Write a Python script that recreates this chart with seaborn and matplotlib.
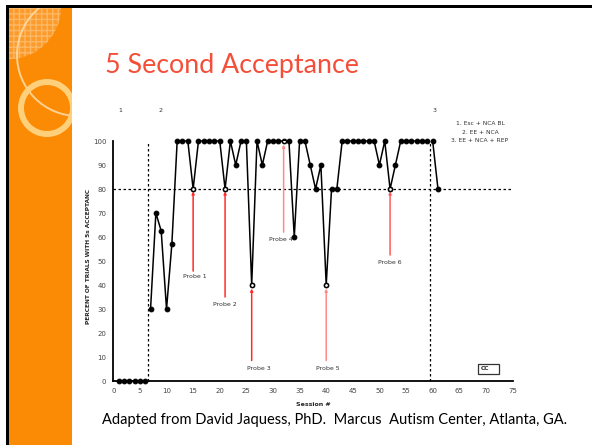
import numpy as np
import pandas as pd
import matplotlib
matplotlib.use("Agg")
import matplotlib.pyplot as plt
import seaborn as sns
from matplotlib.patches import Rectangle, Circle, Wedge

# ---------------- data ----------------
sessions = list(range(1, 62))
acceptance = [0, 0, 0, 0, 0, 0,
              30, 70, 62.5, 30, 57, 100, 100, 100, 80,
              100, 100, 100, 100, 100, 80, 100, 90, 100, 100, 40,
              100, 90, 100, 100, 100, 100, 100, 60, 100, 100, 90, 80, 90, 40,
              80, 80, 100, 100, 100, 100, 100, 100, 100, 90, 100, 80, 90,
              100, 100, 100, 100, 100, 100,
              100, 80]
phase = [1] * 6 + [2] * 53 + [3] * 2
probe_sessions = [15, 21, 26, 32, 40, 52]
probe_labels = ["Probe 1", "Probe 2", "Probe 3", "Probe 4", "Probe 5", "Probe 6"]
phase_change_x = [6.5, 59.5]
criterion = 80
legend_lines = ["1. Esc + NCA BL", "2. EE + NCA", "3. EE + NCA + REP"]

df = pd.DataFrame({"session": sessions, "pct": acceptance, "phase": phase})

# ---------------- figure ----------------
W, H = 592, 445
fig = plt.figure(figsize=(W / 100, H / 100), dpi=100)
sns.set_style("white")
plt.rcParams['font.family'] = ['DejaVu Sans']

def fx(px):
    return px / W

def fy(py):
    return 1 - py / H

# slide decorations
orange = "#FB8A05"
fig.patches.append(Rectangle((fx(8.5), 0), fx(72) - fx(8.5), fy(7), transform=fig.transFigure,
                             facecolor=orange, edgecolor="none", zorder=-2))
fig.patches.append(Rectangle((fx(6), 0), fx(2.6), fy(5.5), transform=fig.transFigure,
                             facecolor="black", edgecolor="none", zorder=5))
fig.patches.append(Rectangle((fx(6), fy(7.5)), 1 - fx(6), fy(5) - fy(7.5), transform=fig.transFigure,
                             facecolor="black", edgecolor="none", zorder=5))

deco = fig.add_axes([fx(8.5), fy(445), fx(72) - fx(8.5), fy(7) - fy(445)])
deco.set_zorder(1)
deco.set_xlim(8.5, 72)
deco.set_ylim(445, 7)
deco.axis("off")
plt.rcParams['hatch.color'] = "#FDB866"
deco.add_patch(Wedge((9, 7), 52, 0, 360, facecolor="#FC9A2A", edgecolor="#FDB866", lw=0, hatch="+++"))
deco.add_patch(Circle((78, 55), 61, facecolor="none", edgecolor="#FFD9A0", lw=1.4, alpha=0.9))
deco.add_patch(Wedge((47, 108), 29, 0, 360, width=6, facecolor="#FFCF7A", edgecolor="none"))

# title
fig.text(fx(105), fy(73), "5 Second Acceptance", fontsize=19.3, color="#F44E38",
         family=["Lato", "DejaVu Sans"], ha="left", va="baseline")
fig.text(fx(102), fy(420), "Adapted from David Jaquess, PhD.  Marcus  Autism Center, Atlanta, GA.",
         fontsize=10.5, color="black", family=["Lato", "DejaVu Sans"], ha="left", va="center")

# ---------------- chart ----------------
ax = fig.add_axes([fx(113.3), fy(381), fx(512.5) - fx(113.3), fy(141) - fy(381)])
ax.set_facecolor("none")
ax.set_zorder(2)

for ph, sub in df.groupby("phase"):
    sns.lineplot(data=sub, x="session", y="pct", ax=ax, color="black", lw=1.1,
                 marker="o", markersize=3.4, markeredgecolor="black", clip_on=False,
                 legend=False, zorder=3)

probe_df = df[df["session"].isin(probe_sessions)]
sns.scatterplot(data=probe_df, x="session", y="pct", ax=ax, s=8, facecolor="white",
                edgecolor="black", linewidth=0.9, zorder=4, legend=False)

ax.set_xlim(0, 75)
ax.set_ylim(0, 100)
ax.set_xticks(np.arange(0, 76, 5))
ax.set_yticks(np.arange(0, 101, 10))
ax.tick_params(axis="both", labelsize=5, colors="black", labelcolor="#444444",
               length=3, width=0.8, direction="out", pad=2)
for s in ["top", "right"]:
    ax.spines[s].set_visible(False)
for s in ["left", "bottom"]:
    ax.spines[s].set_linewidth(1.3)
    ax.spines[s].set_color("black")

# criterion and phase-change lines
ax.plot([0, 75], [criterion, criterion], color="black", lw=0.9, ls=(0, (2, 2)), zorder=2, clip_on=False)
for xv in phase_change_x:
    ax.plot([xv, xv], [0, 100], color="black", lw=0.9, ls=(0, (2, 2)), zorder=2)

# probe arrows
probe_label_pos = [(15.4, 43.5), (21.0, 32.0), (27.3, 5.3), (31.5, 59.0), (40.3, 5.3), (51.9, 49.5)]
arrow_spans = [(45.8, 79.0), (35.0, 79.0), (8.5, 38.5), (62.0, 98.5), (8.5, 38.5), (52.5, 79.0)]
arrow_cols = ["#FF2A2A", "#FF2A2A", "#FF2A2A", "#FF8A8A", "#FF8A8A", "#FF5A5A"]
for xs, lab, (lx, ly), (y0, y1), c in zip(probe_sessions, probe_labels, probe_label_pos, arrow_spans, arrow_cols):
    ax.annotate("", xy=(xs, y1), xytext=(xs, y0),
                arrowprops=dict(arrowstyle="-|>", color=c, lw=1.1, mutation_scale=3.5,
                                shrinkA=0, shrinkB=0), zorder=2)
    ax.text(lx, ly, lab, fontsize=4.5, color="#333333", ha="center", va="center")

# phase labels and legend text
for lab, xv in zip(["1", "2", "3"], [1.3, 8.8, 60.3]):
    ax.text(xv, 112.5, lab, fontsize=4.5, color="#333333", ha="center", va="center", clip_on=False)
for txt, yv in zip(legend_lines, [107.1, 103.5, 100.1]):
    ax.text(68.9, yv, txt, fontsize=4.3, color="#333333", ha="center", va="center", clip_on=False)

# CC box
ax.add_patch(Rectangle((68.6, 2.9), 3.9, 4.2, facecolor="white", edgecolor="#333333", lw=0.9, zorder=3))
ax.text(69.0, 5.3, "CC", fontsize=4.3, fontweight="bold", ha="left", va="center", zorder=4)

ax.set_xlabel("")
ax.set_ylabel("")
fig.text(fx(313), fy(404), "Session #", fontsize=4.5, fontweight="bold", ha="center", va="center")
fig.text(fx(88), fy(256), "PERCENT OF TRIALS WITH 5s ACCEPTANC", fontsize=4.2, fontweight="bold",
         rotation=90, ha="center", va="center")

fig.savefig("out.png", dpi=100)
